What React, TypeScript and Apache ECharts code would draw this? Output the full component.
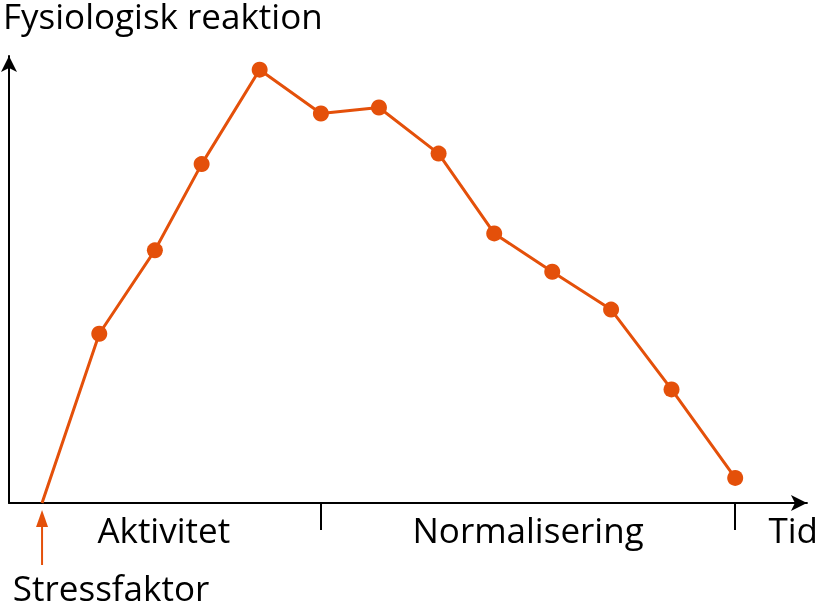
import React, { useEffect, useRef } from "react";
import * as echarts from "echarts";

const timeValues = [4.1, 11.2, 18.1, 23.9, 31.1, 38.7, 45.9, 53.3, 60.2, 67.4, 74.7, 82.2, 90.1];
const responseValues = [0, 37.1, 55.4, 74.3, 95.0, 85.4, 86.7, 76.6, 59.1, 50.7, 42.4, 24.9, 5.5];
const phaseTicks = [38.7, 90.1];
const phaseLabelPositions = [19.2, 64.4, 97.3];
const phaseLabels = ["Aktivitet", "Normalisering", "Tid"];
const yTitle = "Fysiologisk reaktion";
const stressLabel = "Stressfaktor";

const ORANGE = "#E4500A";
const FONT = "Open Sans";
const FS = 35;

export default function App() {
  const ref = useRef<HTMLDivElement>(null);
  useEffect(() => {
    const chart = echarts.init(ref.current!, null, { renderer: "svg" });
    const data = timeValues.map((t, i) =>
      i === 0
        ? { value: [t, responseValues[i]], symbol: "none" }
        : { value: [t, responseValues[i]] }
    );
    chart.setOption({
      animation: false,
      title: {
        text: yTitle,
        left: -2,
        top: -7,
        textStyle: { fontFamily: FONT, fontSize: FS, fontWeight: "normal", color: "#000" },
      },
      grid: { left: 9, right: 14, top: 56, bottom: 105 },
      xAxis: {
        type: "value",
        min: 0,
        max: 99,
        splitLine: { show: false },
        axisLine: {
          show: true,
          onZero: false,
          lineStyle: { color: "#000", width: 2 },
          symbol: ["none", "arrow"],
          symbolSize: [12, 16],
        },
        axisTick: {
          show: true,
          customValues: phaseTicks,
          length: 27,
          lineStyle: { color: "#000", width: 2 },
        },
        axisLabel: {
          show: true,
          customValues: phaseLabelPositions,
          formatter: (v: number) => {
            const i = phaseLabelPositions.indexOf(v);
            return i >= 0 ? phaseLabels[i] : "";
          },
          fontFamily: FONT,
          fontSize: FS,
          color: "#000",
          margin: 9,
          verticalAlign: "top",
        },
      },
      yAxis: {
        type: "value",
        min: 0,
        max: 98,
        splitLine: { show: false },
        axisTick: { show: false },
        axisLabel: { show: false },
        axisLine: {
          show: true,
          onZero: false,
          lineStyle: { color: "#000", width: 2 },
          symbol: ["none", "arrow"],
          symbolSize: [12, 16],
        },
      },
      series: [
        {
          type: "line",
          data,
          symbol: "circle",
          symbolSize: 16,
          lineStyle: { color: ORANGE, width: 3 },
          itemStyle: { color: ORANGE },
          z: 3,
        },
      ],
    });
    const p = chart.convertToPixel({ gridIndex: 0 }, [timeValues[0], 0]) as number[];
    const x = p[0];
    const y = p[1];
    chart.setOption({
      graphic: [
        {
          type: "line",
          shape: { x1: x, y1: y + 20, x2: x, y2: y + 62 },
          style: { stroke: ORANGE, lineWidth: 2 },
        },
        {
          type: "polygon",
          shape: { points: [[x, y + 7], [x - 6, y + 24], [x + 6, y + 24]] },
          style: { fill: ORANGE },
        },
        {
          type: "text",
          x: x + 69,
          y: y + 67,
          style: {
            text: stressLabel,
            fontFamily: FONT,
            fontSize: FS,
            fill: "#000",
            align: "center",
            verticalAlign: "top",
          },
        },
      ],
    });
    return () => chart.dispose();
  }, []);
  return (
    <div
      ref={ref}
      style={{ position: "fixed", left: 0, top: 0, width: 821, height: 608 }}
    />
  );
}
